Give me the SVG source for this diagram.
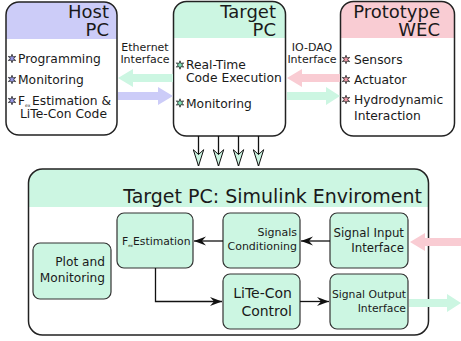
<svg xmlns="http://www.w3.org/2000/svg" width="461" height="341" viewBox="0 0 461 341">
<style>
text{font-family:"DejaVu Sans","Verdana",sans-serif;fill:#1a1a1a}
.hd{font-size:18px;text-anchor:end}
.bd{font-size:12.3px}
.lbl{font-size:11px;text-anchor:middle}
.box{fill:none;stroke:#222;stroke-width:1.5}
.blk{fill:#ccf6e2;stroke:#333;stroke-width:1.2}
.mint{fill:#ccf6e2}
.lav{fill:#ccccf8}
.pink{fill:#f9ccd3}
.wire{fill:none;stroke:#111;stroke-width:1.3}
.down{fill:none;stroke:#111;stroke-width:1.3}
</style>
<defs>
<marker id="bh" viewBox="0 0 13 10" refX="12" refY="5" markerWidth="13" markerHeight="10" markerUnits="userSpaceOnUse" orient="auto">
<path d="M0,0.5 L12,5 L0,9.5 L4,5 Z" fill="#111"/>
</marker>
<marker id="mh" viewBox="0 0 18 12" refX="17" refY="6" markerWidth="18" markerHeight="12" markerUnits="userSpaceOnUse" orient="auto">
<path d="M0.7,0.8 L17,6 L0.7,11.2 L5.5,6 Z" fill="#ccf6e2" stroke="#111" stroke-width="1"/>
</marker>
<path id="star" d="M0,-4.2 L0.9,-1.56 L3.64,-2.1 L1.8,0 L3.64,2.1 L0.9,1.56 L0,4.2 L-0.9,1.56 L-3.64,2.1 L-1.8,0 L-3.64,-2.1 L-0.9,-1.56 Z" stroke="#222" stroke-width="0.8"/>
</defs>

<g id="host-pc">
<path class="lav" d="M6,39 V15 A13,13 0 0 1 19,2 H104 A13,13 0 0 1 117,15 V39 Z"/>
<rect class="box" x="6" y="2" width="111" height="133" rx="13"/>
<text class="hd" x="109" y="17.5">Host</text>
<text class="hd" x="109" y="35.5">PC</text>
<use href="#star" x="12" y="58.5" fill="#9a9ae8"/>
<use href="#star" x="12" y="79.5" fill="#9a9ae8"/>
<use href="#star" x="12" y="100.5" fill="#9a9ae8"/>
<text class="bd" x="18" y="63">Programming</text>
<text class="bd" x="18" y="84">Monitoring</text>
<text class="bd" x="18" y="105">F<tspan font-size="4.5" dy="2">ex</tspan><tspan x="32" dy="-2">Estimation &amp;</tspan></text>
<text class="bd" x="20" y="118">LiTe-Con Code</text>
</g>

<g id="target-pc">
<path class="mint" d="M173.5,38 V14.5 A13,13 0 0 1 186.5,1.5 H272.5 A13,13 0 0 1 285.5,14.5 V38 Z"/>
<rect class="box" x="173.5" y="1.5" width="112" height="134.5" rx="13"/>
<text class="hd" x="276" y="17.5">Target</text>
<text class="hd" x="276" y="35.5">PC</text>
<use href="#star" x="180" y="65" fill="#7fe0b5"/>
<use href="#star" x="180" y="103" fill="#7fe0b5"/>
<text class="bd" x="186" y="69">Real-Time</text>
<text class="bd" x="186" y="82">Code Execution</text>
<text class="bd" x="186" y="108">Monitoring</text>
</g>

<g id="prototype-wec">
<path class="pink" d="M340.5,38 V14.5 A13,13 0 0 1 353.5,1.5 H441.5 A13,13 0 0 1 454.5,14.5 V38 Z"/>
<rect class="box" x="340.5" y="1.5" width="114" height="134.5" rx="13"/>
<text class="hd" x="440" y="17.5">Prototype</text>
<text class="hd" x="440" y="35.5">WEC</text>
<use href="#star" x="346" y="59.5" fill="#f29aa8"/>
<use href="#star" x="346" y="79.5" fill="#f29aa8"/>
<use href="#star" x="346" y="99.5" fill="#f29aa8"/>
<text class="bd" x="354" y="64">Sensors</text>
<text class="bd" x="354" y="84">Actuator</text>
<text class="bd" x="354" y="104">Hydrodynamic</text>
<text class="bd" x="354" y="120">Interaction</text>
</g>

<g id="simulink-env">
<path class="mint" d="M28.5,207 V183 A14,14 0 0 1 42.5,169 H414.5 A14,14 0 0 1 428.5,183 V207 Z"/>
<rect class="box" x="28.5" y="169" width="400" height="166" rx="14"/>
<text x="422" y="203" font-size="19" text-anchor="end">Target PC: Simulink Enviroment</text>
</g>

<g id="fex-estimation">
<rect class="blk" x="117" y="213" width="76" height="55" rx="7"/>
<text x="122" y="245" font-size="10.8">F<tspan font-size="4" dy="2">ex</tspan><tspan x="133" dy="-2">Estimation</tspan></text>
</g>
<g id="signals-conditioning">
<rect class="blk" x="223" y="213" width="77" height="55" rx="7"/>
<text x="297" y="236" font-size="11" text-anchor="end">Signals</text>
<text x="297" y="250" font-size="11" text-anchor="end">Conditioning</text>
</g>
<g id="signal-input-interface">
<rect class="blk" x="330" y="213" width="78" height="55" rx="7"/>
<text x="404" y="237" font-size="11.8" text-anchor="end">Signal Input</text>
<text x="404" y="252" font-size="11.8" text-anchor="end">Interface</text>
</g>
<g id="litecon-control">
<rect class="blk" x="223" y="274" width="77" height="55" rx="7"/>
<text x="292" y="298" font-size="14" text-anchor="end">LiTe-Con</text>
<text x="292" y="316" font-size="14" text-anchor="end">Control</text>
</g>
<g id="signal-output-interface">
<rect class="blk" x="330" y="274" width="78" height="55" rx="7"/>
<text x="406" y="298" font-size="10.8" text-anchor="end">Signal Output</text>
<text x="406" y="312" font-size="10.8" text-anchor="end">Interface</text>
</g>
<g id="plot-monitoring">
<rect class="blk" x="33" y="243" width="78" height="56" rx="7"/>
<text x="105" y="266" font-size="12.2" text-anchor="end">Plot and</text>
<text x="105" y="282" font-size="12.2" text-anchor="end">Monitoring</text>
</g>

<g id="connectors">
<polygon class="mint" points="118,78 133,69 133,74 173,74 173,82 133,82 133,87"/>
<polygon class="lav" points="118,92 158,92 158,87 173,96 158,105 158,100 118,100"/>
<text class="lbl" x="145" y="50.5">Ethernet</text>
<text class="lbl" x="145" y="63">Interface</text>
<polygon class="pink" points="287,78 302,69 302,74 340,74 340,82 302,82 302,87"/>
<polygon class="mint" points="287,92 326,92 326,87 340,96 326,105 326,100 287,100"/>
<text class="lbl" x="312" y="50.5">IO-DAQ</text>
<text class="lbl" x="312" y="63">Interface</text>
<polygon class="pink" points="410,242 425,233 425,238 461,238 461,246 425,246 425,251"/>
<polygon class="mint" points="409,299 447,299 447,294 461,303 447,312 447,307 409,307"/>
<line class="down" x1="198.5" y1="136" x2="198.5" y2="166" marker-end="url(#mh)"/>
<line class="down" x1="218.5" y1="136" x2="218.5" y2="166" marker-end="url(#mh)"/>
<line class="down" x1="238.5" y1="136" x2="238.5" y2="166" marker-end="url(#mh)"/>
<line class="down" x1="258.5" y1="136" x2="258.5" y2="166" marker-end="url(#mh)"/>
<line class="wire" x1="330" y1="241" x2="301" y2="241" marker-end="url(#bh)"/>
<line class="wire" x1="223" y1="241" x2="194" y2="241" marker-end="url(#bh)"/>
<path class="wire" d="M155.5,268 V301.5 H222" marker-end="url(#bh)"/>
<line class="wire" x1="300" y1="301.5" x2="329" y2="301.5" marker-end="url(#bh)"/>
</g>
</svg>
